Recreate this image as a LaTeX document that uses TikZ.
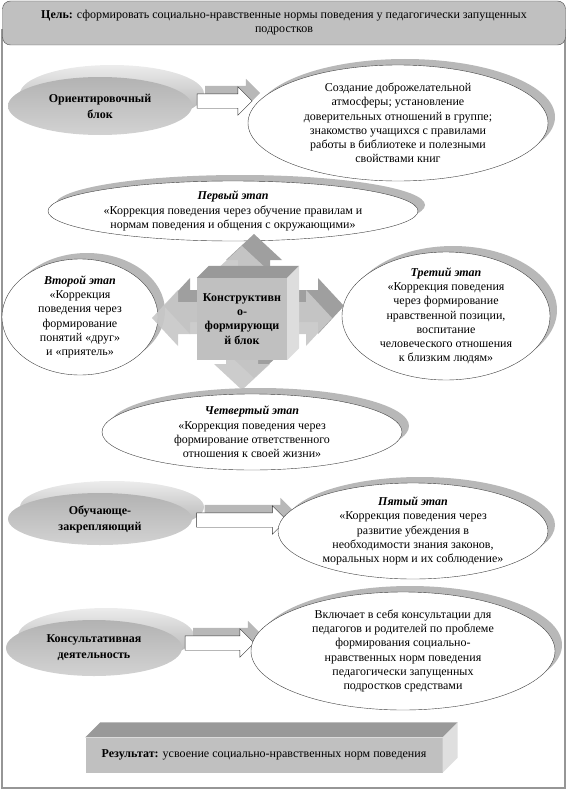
\documentclass[tikz,border=0pt]{standalone}
\usepackage{fontspec}
\setmainfont{Liberation Serif}
\usetikzlibrary{shapes.geometric,shapes.arrows,shadows,calc}
\definecolor{facegray}{RGB}{192,192,192}
\definecolor{rimgray}{RGB}{184,184,184}
\definecolor{framegray}{RGB}{150,150,150}
\newcommand{\etapname}[1]{\textbf{\textit{#1}}}

\begin{document}
\begin{tikzpicture}[x=1pt,y=-1pt,
  txt/.style={font=\fontsize{12}{14.2}\selectfont},
  stage/.style={ellipse,draw=black!75,fill=white,align=center,inner xsep=0pt,inner ysep=-10pt,txt,
                general shadow={fill=rimgray,shadow xshift=7pt,shadow yshift=6pt}},
  disk/.style={ellipse,align=center,inner sep=0pt,font=\bfseries\fontsize{12}{16}\selectfont,
               top color=gray!60,bottom color=gray!35,
               general shadow={top color=gray!15,bottom color=gray!65,shadow xshift=12pt,shadow yshift=12pt}},
  hollow/.style={single arrow,draw=black!80,fill=white,inner xsep=0pt,inner ysep=7pt,
                 single arrow head extend=7pt,
                 general shadow={fill=rimgray,shadow xshift=8pt,shadow yshift=8pt}},
  box/.style={draw=black!70,fill=facegray,align=center,txt},
  quad/.pic={\path[pic actions] (0,-72) -- (28,-46) -- (16,-46) -- (16,-16) -- (64,-16) -- (64,-28)
      -- (90,0) -- (64,28) -- (64,16) -- (16,16) -- (16,46) -- (28,46) -- (0,72) -- (-28,46)
      -- (-16,46) -- (-16,16) -- (-64,16) -- (-64,28) -- (-90,0) -- (-64,-28) -- (-64,-16)
      -- (-16,-16) -- (-16,-46) -- (-28,-46) -- cycle;}
]
\useasboundingbox (0,0) rectangle (568,792);
\draw[framegray,line width=1.5pt] (2,30) rectangle (565,788);

% goal
\node[box,rounded corners=8pt,minimum width=563pt,minimum height=44pt] (goal) at (284,23)
  {\textbf{Цель:} сформировать социально-нравственные нормы поведения у педагогически запущенных\\подростков};

% orientation block
\node[disk,minimum width=184pt,minimum height=58pt] (ornt) at (100,106) {Ориентировочный\\блок};
\node[hollow,minimum height=55pt] (a1) at (221,101) {};
\node[stage,minimum width=300pt,minimum height=116pt] (atmos) at (398,123)
  {Создание доброжелательной\\атмосферы; установление\\доверительных отношений в группе;\\
   знакомство учащихся с правилами\\работы в библиотеке и полезными\\свойствами книг};

% stages
\node[stage,minimum width=370pt,minimum height=60pt] (st1) at (233,211)
  {\etapname{Первый этап}\\«Коррекция поведения через обучение правилам и\\нормам поведения и общения с окружающими»};
\node[stage,minimum width=156pt,minimum height=116pt] (st2) at (80,317)
  {\etapname{Второй этап}\\«Коррекция\\поведения через\\формирование\\понятий «друг»\\и «приятель»};
\node[stage,minimum width=208pt,minimum height=128pt] (st3) at (446,316)
  {\etapname{Третий этап}\\«Коррекция поведения\\через формирование\\нравственной позиции,\\воспитание\\
   человеческого отношения\\к близким людям»};

% constructive block
\pic[fill=gray!75] at (254,306) {quad};
\pic[fill=gray!43,opacity=.92] at (242,318) {quad};
\node[box,draw=none,minimum width=90pt,minimum height=82pt,inner sep=0pt,
      font=\bfseries\fontsize{12}{14.2}\selectfont] (konstr) at (242,319)
  {Конструктивн\\о-\\формирующи\\й блок};
\fill[gray!80] (konstr.north west) -- ++(12,-12) -- ($(konstr.north east)+(12,-12)$)
  -- (konstr.north east) -- cycle;
\fill[gray!27] (konstr.north east) -- ++(12,-12) -- ($(konstr.south east)+(12,-12)$)
  -- (konstr.south east) -- cycle;

\node[stage,minimum width=300pt,minimum height=76pt] (st4) at (252,432)
  {\etapname{Четвертый этап}\\«Коррекция поведения через\\формирование ответственного\\отношения к своей жизни»};

% training block
\node[disk,minimum width=184pt,minimum height=52pt] (obuch) at (100,519) {Обучающе-\\закрепляющий};
\node[hollow,minimum height=90pt] (a2) at (238,520) {};
\node[stage,minimum width=270pt,minimum height=96pt] (st5) at (413,531)
  {\etapname{Пятый этап}\\«Коррекция поведения через\\развитие убеждения в\\необходимости знания законов,\\
   моральных норм и их соблюдение»};

% consulting
\node[disk,minimum width=176pt,minimum height=56pt] (kons) at (94,648) {Консультативная\\деятельность};
\node[hollow,minimum height=69pt] (a3) at (216,643) {};
\node[stage,minimum width=304pt,minimum height=118pt] (vkl) at (403,651)
  {Включает в себя консультации для\\педагогов и родителей по проблеме\\формирования социально-\\
   нравственных норм поведения\\педагогически запущенных\\подростков средствами};

% result
\node[box,draw=none,minimum width=357pt,minimum height=35pt] (res) at (264,755)
  {\textbf{Результат:} усвоение социально-нравственных норм поведения};
\fill[gray!80] (res.north west) -- ++(15,-15) -- ($(res.north east)+(15,-15)$)
  -- (res.north east) -- cycle;
\fill[gray!25] (res.north east) -- ++(15,-15) -- ($(res.south east)+(15,-15)$)
  -- (res.south east) -- cycle;
\end{tikzpicture}
\end{document}
